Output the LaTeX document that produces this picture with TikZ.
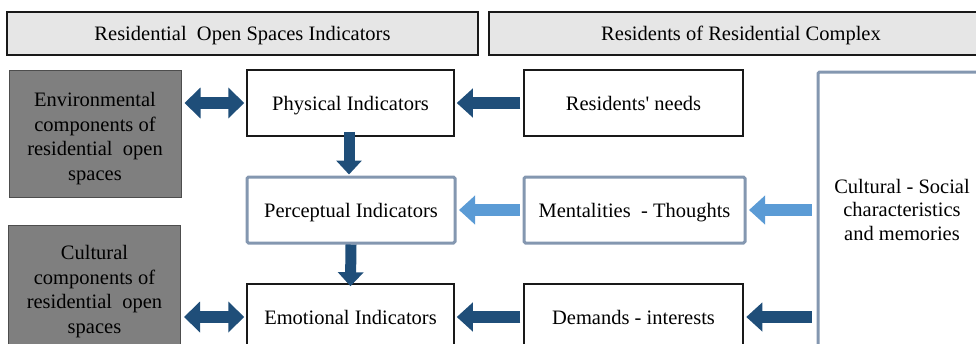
\documentclass[tikz,border=0pt]{standalone}
\usepackage{fontspec}
\setmainfont{Liberation Serif}[Ligatures=TeXOff]
\usetikzlibrary{arrows.meta}
\definecolor{hdrfill}{HTML}{E6E6E6}
\definecolor{greyfill}{HTML}{7F7F7F}
\definecolor{greyedge}{HTML}{4D4D4D}
\definecolor{bluegrey}{HTML}{8497B0}
\definecolor{arrdark}{HTML}{1F4E79}
\definecolor{arrlight}{HTML}{5B9BD5}
\begin{document}
\begin{tikzpicture}[x=1pt,y=-1pt,
  every node/.style={font=\fontsize{20.5}{24.5}\selectfont, inner sep=0pt, align=center},
  oneline/.style={text height=18.5pt, text depth=4.5pt},
  hdr/.style={oneline, draw=black!90, line width=1.5pt, fill=hdrfill, minimum height=43pt},
  greybox/.style={draw=greyedge, line width=1pt, fill=greyfill, minimum width=172pt, minimum height=127pt},
  plainbox/.style={oneline, draw=black!90, line width=1.5pt, fill=white, minimum height=66pt},
  bgbox/.style={draw=bluegrey, line width=3pt, fill=white, rounded corners=1.5pt, minimum height=66pt},
  darrow/.style={draw=arrdark, line width=12pt, -{Triangle[length=16pt,width=28pt]}},
  larrow/.style={draw=arrlight, line width=12pt, -{Triangle[length=16pt,width=28pt]}},
  dblarrow/.style={draw=arrdark, line width=12pt, {Triangle[length=16pt,width=30pt]}-{Triangle[length=16pt,width=30pt]}},
  downarrow/.style={draw=arrdark, line width=11pt, -{Triangle[length=14pt,width=25pt]}}
]
\useasboundingbox (0,0) rectangle (976,343);
\clip (0,0) rectangle (976,343);

% headers
\node[hdr, minimum width=471pt] (h1) at (242.5,33.5) {Residential\ \ Open Spaces Indicators};
\node[hdr, minimum width=504pt] (h2) at (741,33.5) {Residents of Residential Complex};

% left grey boxes
\node[greybox] (env) at (95,133.5) {\rule{0pt}{24pt}Environmental\\components of\\residential\ \ open\\spaces};
\node[greybox] (cult) at (94.5,288.5) {\rule{0pt}{20pt}Cultural\\components of\\residential\ \ open\\spaces};

% indicators column
\node[plainbox, minimum width=207pt] (phys) at (350.5,103) {Physical Indicators};
\node[bgbox, oneline, minimum width=208pt] (perc) at (351,210) {Perceptual Indicators};
\node[plainbox, minimum width=207pt] (emo) at (350.5,317) {Emotional Indicators};

% residents column
\node[plainbox, minimum width=219pt] (needs) at (633.5,103) {Residents' needs};
\node[bgbox, oneline, minimum width=221pt] (ment) at (634.5,210) {Mentalities\ \ - Thoughts};
\node[plainbox, minimum width=219pt] (dem) at (633.5,317) {Demands - interests};

% right box
\node[bgbox, minimum width=168pt, minimum height=278pt, font=\fontsize{20.5}{23.5}\selectfont] (soc) at (902,211)
  {Cultural - Social\\characteristics\\and memories\rule[-2.5pt]{0pt}{0pt}};

% arrows
\draw[dblarrow, shorten <=3pt, shorten >=2pt] (env.east |- phys.west) -- (phys.west);
\draw[dblarrow, shorten <=3pt, shorten >=2pt] (cult.east |- emo.west) -- (emo.west);
\draw[darrow, shorten <=3pt, shorten >=2pt] (needs.west) -- (phys.east);
\draw[larrow, shorten <=3pt, shorten >=2.5pt] (ment.west) -- (perc.east);
\draw[darrow, shorten <=3pt, shorten >=2pt] (dem.west) -- (emo.east);
\draw[larrow, shorten <=5pt, shorten >=2.5pt] (soc.west |- ment.east) -- (ment.east);
\draw[darrow, shorten <=5pt, shorten >=2.5pt] (soc.west |- dem.east) -- (dem.east);
\draw[downarrow, shorten <=-5pt, shorten >=1pt] ([xshift=-1.5pt]phys.south) -- ([xshift=-1.5pt]phys.south |- perc.north);
\draw[downarrow, shorten >=-3pt] (perc.south) -- (emo.north);
\end{tikzpicture}
\end{document}
